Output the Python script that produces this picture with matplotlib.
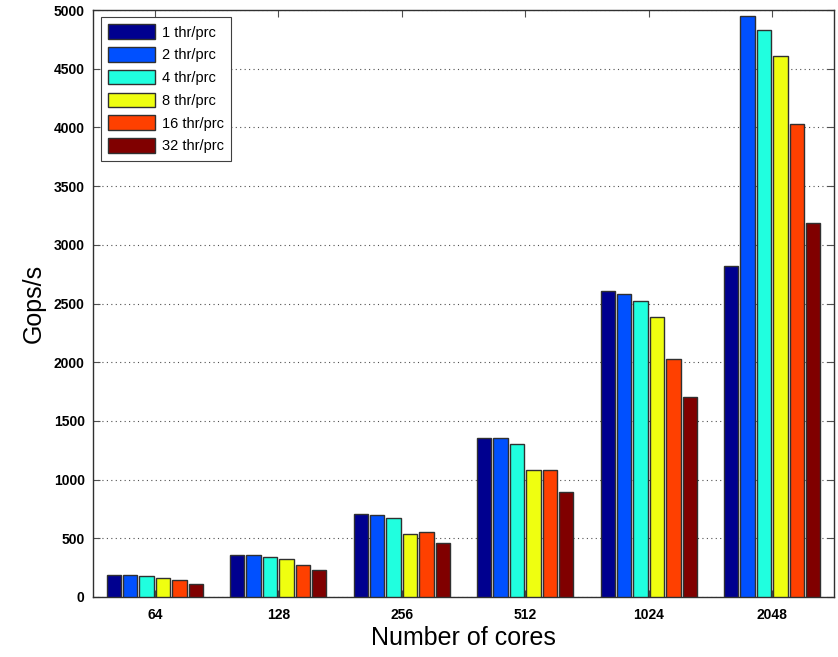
import matplotlib
matplotlib.use("Agg")
import matplotlib.pyplot as plt
import numpy as np

plt.rcParams['font.family'] = ['Liberation Sans', 'DejaVu Sans']

cores = ["64", "128", "256", "512", "1024", "2048"]
series_names = ["1 thr/prc", "2 thr/prc", "4 thr/prc", "8 thr/prc", "16 thr/prc", "32 thr/prc"]
thr1 = [185, 358, 704, 1352, 2610, 2823]
thr2 = [185, 358, 698, 1358, 2584, 4947]
thr4 = [176, 344, 670, 1307, 2521, 4833]
thr8 = [162, 327, 540, 1079, 2385, 4612]
thr16 = [142, 276, 557, 1079, 2025, 4026]
thr32 = [114, 227, 460, 894, 1707, 3183]
series = [thr1, thr2, thr4, thr8, thr16, thr32]
colors = ['#00008F', '#0050FF', '#20FFDF', '#EFFF10', '#FF4000', '#800000']

fig = plt.figure(figsize=(8.38, 6.57), dpi=100)
ax = fig.add_axes([93/838, 1-597/657, (834-93)/838, (597-10)/657])

x = np.arange(1, len(cores)+1)
pitch = 0.133
width = 0.116
for i, (vals, name, c) in enumerate(zip(series, series_names, colors)):
    off = (i - 2.5) * pitch
    ax.bar(x + off, vals, width=width, color=c, edgecolor='#303030', linewidth=1.0, label=name, zorder=3)

ax.set_xlim(0.5, 6.5)
ax.set_ylim(0, 5000)
ax.set_yticks(np.arange(0, 5001, 500))
ax.set_xticks(x)
ax.set_xticklabels(cores)
ax.tick_params(direction='in', top=True, right=True, length=5, color='#505050',
               labelsize=10)
ax.tick_params(axis='x', pad=8)
ax.tick_params(axis='y', pad=6)
for lab in ax.get_xticklabels() + ax.get_yticklabels():
    lab.set_fontweight('bold')
ax.yaxis.grid(True, linestyle=(0, (1, 3)), color='#505050', linewidth=0.8, zorder=0)
ax.set_axisbelow(True)
for s in ax.spines.values():
    s.set_color('#303030')
    s.set_linewidth(1.0)

ax.set_xlabel("Number of cores", fontsize=18, labelpad=3)
ax.set_ylabel("Gops/s", fontsize=18, labelpad=6)

leg = ax.legend(loc='upper left', bbox_to_anchor=(0.011, 0.988), fontsize=10.5,
                handlelength=3.2, handleheight=1.15, labelspacing=0.52,
                fancybox=False, edgecolor='#404040', framealpha=1,
                borderpad=0.5, handletextpad=0.45, borderaxespad=0)
leg.get_frame().set_linewidth(0.8)

fig.savefig("out.png", dpi=100)
